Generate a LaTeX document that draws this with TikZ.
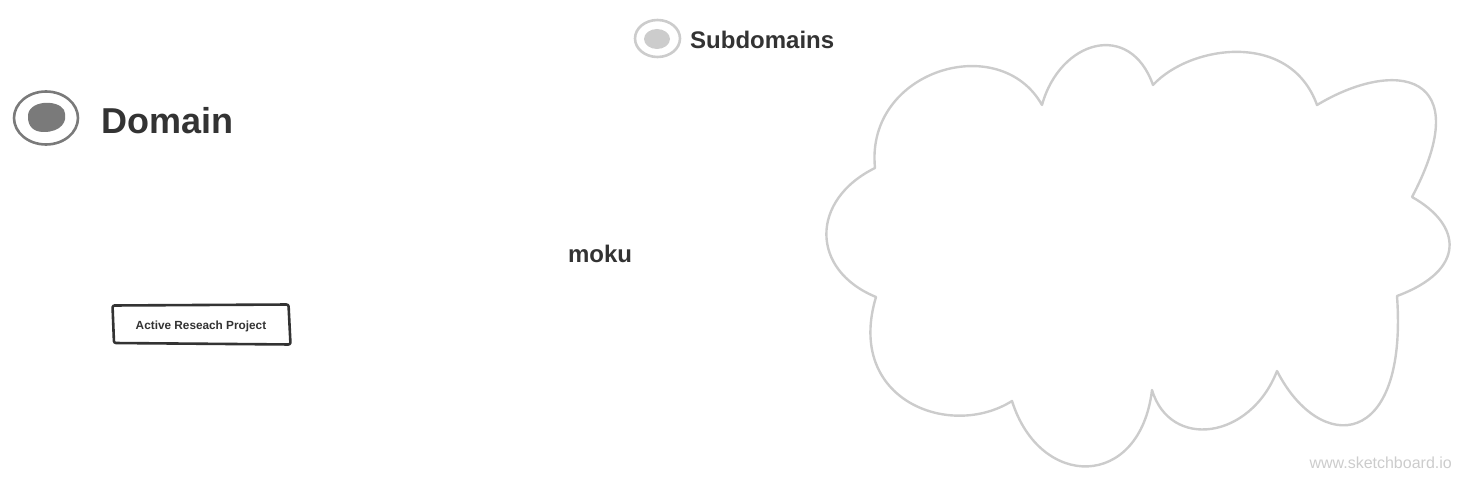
\documentclass[tikz,border=0pt]{standalone}
\usepackage{fontspec}
\setmainfont{Liberation Sans}
\definecolor{ink}{HTML}{333333}
\definecolor{domgray}{HTML}{7A7A7A}
\definecolor{subgray}{HTML}{CCCCCC}
\begin{document}
\begin{tikzpicture}[x=1pt, y=-1pt, line join=round,
  label/.style = {text=ink, font=\bfseries, inner sep=0pt},
  ring/.style = {line width=2.6pt},
  cloudline/.style = {draw=subgray, line width=2.4pt}]
\useasboundingbox (0,0) rectangle (1472,484);
% legend
\draw[ring, draw=domgray] (46,118) ellipse [x radius=32, y radius=26.5];
\fill[domgray] (28,117) .. controls (27,100) and (58,99) .. (64,110)
  .. controls (69,122) and (60,132) .. (44,132) .. controls (33,132) and (28,126) .. (28,117);
\node[label, anchor=west, font=\fontsize{36}{40}\selectfont\bfseries] (domain) at (101,121) {Domain};
\draw[ring, draw=subgray] (657.5,38.5) ellipse [x radius=22.5, y radius=18.5];
\fill[subgray] (657,39) ellipse [x radius=13, y radius=10];
\node[label, anchor=west, font=\fontsize{24}{28}\selectfont\bfseries] (sub) at (690,40) {Subdomains};
% labels
\node[label, font=\fontsize{24}{28}\selectfont\bfseries] (moku) at (600,254) {moku};
\node[label, font=\fontsize{11.8}{14}\selectfont\bfseries] (project) at (201,326) {Active Reseach Project};
\draw[ink, line width=2.6pt, rounded corners=2pt] (112.5,305.5) -- (288.5,304.5) -- (290.5,344.5) -- (114,343) -- cycle;
% cloud
\draw[cloudline] (875,168) .. controls (865,70) and (1000,30) .. (1042,105)
  .. controls (1060,40) and (1130,20) .. (1153,85)
  .. controls (1190,45) and (1290,30) .. (1317,105)
  .. controls (1395,58) and (1478,72) .. (1412,197)
  .. controls (1462,225) and (1467,270) .. (1397,296)
  .. controls (1408,450) and (1320,455) .. (1277,371)
  .. controls (1250,440) and (1170,450) .. (1152,390)
  .. controls (1140,490) and (1040,490) .. (1012,401)
  .. controls (950,440) and (845,400) .. (876,297)
  .. controls (810,270) and (810,200) .. cycle;
\node[text=subgray, anchor=east, inner sep=0pt, font=\fontsize{16}{18}\selectfont] (mark) at (1452,463) {www.sketchboard.io};
\end{tikzpicture}
\end{document}
